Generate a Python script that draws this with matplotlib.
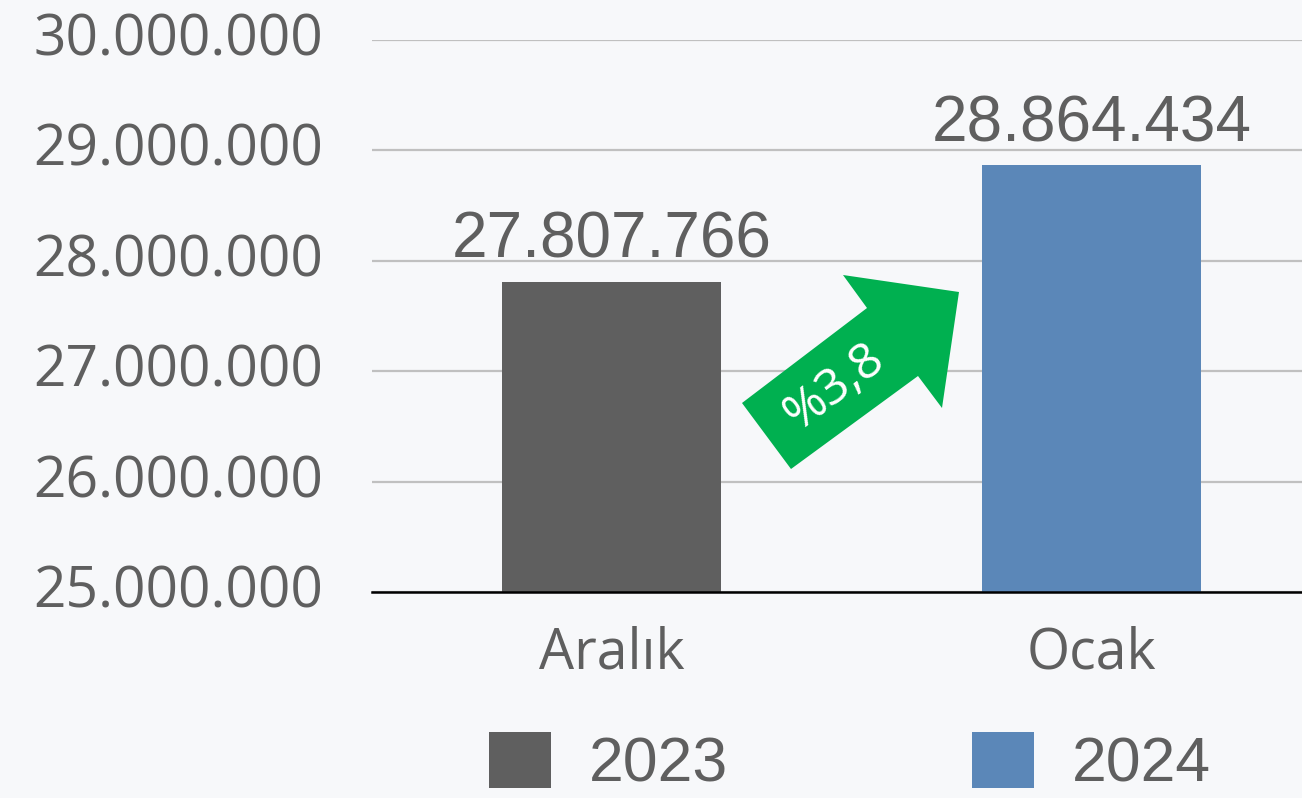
import matplotlib
matplotlib.use("Agg")
import matplotlib.pyplot as plt
from matplotlib.patches import Polygon, Patch
from matplotlib.ticker import FuncFormatter
from matplotlib.transforms import ScaledTranslation

categories = ["Aralık", "Ocak"]
values = [27807766, 28864434]
years = ["2023", "2024"]
colors = ["#5f5f5f", "#5b87b8"]
yticks = [25000000, 26000000, 27000000, 28000000, 29000000, 30000000]
change_label = "%3,8"

W, H = 1302, 798
bg = "#f7f8fa"
txt = "#5f5f5f"

fig = plt.figure(figsize=(W / 100, H / 100), dpi=100, facecolor=bg)
ax = fig.add_axes([372 / W, 1 - 592 / H, 1 - 372 / W, (592 - 40) / H])
ax.set_facecolor(bg)

x = list(range(len(categories)))
ax.bar(x, values, width=0.456, color=colors, zorder=3)
ax.set_xlim(-0.5, 1.4385)
ax.set_ylim(yticks[0], yticks[-1])
ax.set_yticks(yticks)
ax.yaxis.set_major_formatter(FuncFormatter(lambda v, p: f"{int(v):,}".replace(",", ".")))
ax.grid(axis="y", color="#c0c0c0", linewidth=1.6, zorder=0)
ax.set_axisbelow(True)
for s in ["top", "right", "left"]:
    ax.spines[s].set_visible(False)
ax.spines["bottom"].set_color("black")
ax.spines["bottom"].set_linewidth(1.8)
ax.spines["bottom"].set_zorder(4)

ax.set_xticks(x)
ax.set_xticklabels(categories)
ax.tick_params(axis="both", length=0)
ax.tick_params(axis="y", pad=35, labelsize=41, labelcolor=txt)
ax.tick_params(axis="x", pad=24, labelsize=40, labelcolor=txt)
for lab in ax.get_yticklabels() + ax.get_xticklabels():
    lab.set_fontfamily("Open Sans")
shift = ScaledTranslation(0, 6 / 100, fig.dpi_scale_trans)
for lab in ax.get_yticklabels():
    lab.set_transform(lab.get_transform() + shift)

for xi, v in zip(x, values):
    ax.annotate(f"{v:,}".replace(",", "."), (xi, v), xytext=(0, 8),
                textcoords="offset points", ha="center", va="bottom",
                fontsize=46, color=txt, fontfamily="Liberation Sans")

# green arrow annotation (figure pixel coords)
pts = [(742, 403), (867, 308), (843, 275), (959, 292), (942, 408), (918, 376), (791, 469)]
poly = Polygon([(px / W, 1 - py / H) for px, py in pts], closed=True,
               transform=fig.transFigure, facecolor="#00b050", edgecolor="none", zorder=5)
fig.patches.append(poly)
fig.text(835 / W, 1 - 387 / H, change_label, rotation=37, ha="center", va="center",
         color="white", fontsize=36, fontfamily="Open Sans", fontweight="medium",
         rotation_mode="anchor", zorder=10)

handles = [Patch(facecolor=c, edgecolor="none") for c in colors]
leg = fig.legend(handles, years, loc="center", bbox_to_anchor=(850 / W, 1 - 763 / H),
                 ncol=2, frameon=False, handlelength=1.0, handleheight=1.0,
                 handletextpad=0.6, columnspacing=3.9,
                 prop={"family": ["Liberation Sans Narrow", "Liberation Sans"], "size": 45})
for t in leg.get_texts():
    t.set_color(txt)

fig.savefig("out.png", dpi=100, facecolor=bg)
